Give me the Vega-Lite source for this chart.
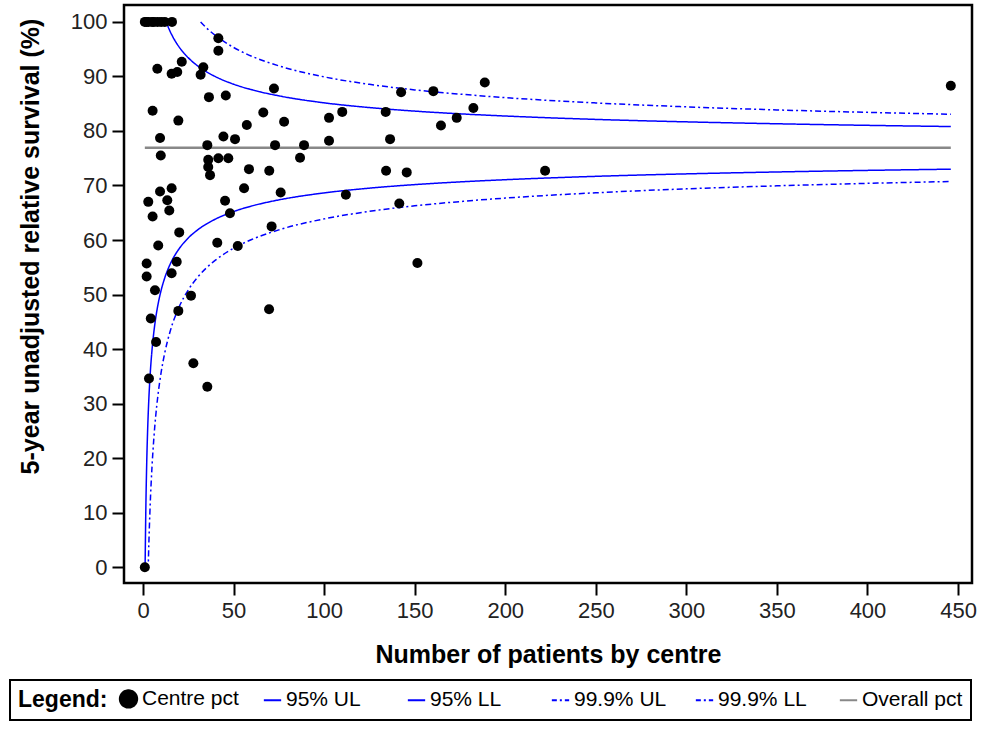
{
  "$schema": "https://vega.github.io/schema/vega-lite/v6.json",
  "autosize": {"type": "none"},
  "width": 848,
  "height": 578,
  "padding": {"left": 124, "top": 5, "right": 16, "bottom": 146},
  "background": "white",
  "config": {
    "font": "Liberation Sans",
    "view": {"stroke": "black", "strokeWidth": 2.5},
    "axis": {
      "grid": false,
      "domain": false,
      "tickColor": "black",
      "tickWidth": 2,
      "tickSize": 12,
      "labelFont": "Liberation Sans",
      "labelFontSize": 22,
      "labelColor": "#222222",
      "labelPadding": 5,
      "titleFont": "Liberation Sans",
      "titleFontSize": 25,
      "titleFontWeight": "bold",
      "titleColor": "black"
    }
  },
  "datasets": {
    "pts": [
      {"n": 1, "v": 100, "series": "Centre pct"}, {"n": 2, "v": 100, "series": "Centre pct"}, {"n": 3, "v": 100, "series": "Centre pct"},
      {"n": 5, "v": 100, "series": "Centre pct"}, {"n": 6, "v": 100, "series": "Centre pct"}, {"n": 8, "v": 100, "series": "Centre pct"},
      {"n": 10, "v": 100, "series": "Centre pct"}, {"n": 12, "v": 100, "series": "Centre pct"}, {"n": 16, "v": 100, "series": "Centre pct"},
      {"n": 41.6, "v": 97.0, "series": "Centre pct"}, {"n": 41.6, "v": 94.7, "series": "Centre pct"}, {"n": 21.4, "v": 92.7, "series": "Centre pct"},
      {"n": 7.9, "v": 91.4, "series": "Centre pct"}, {"n": 15.8, "v": 90.5, "series": "Centre pct"}, {"n": 18.9, "v": 90.8, "series": "Centre pct"},
      {"n": 33.3, "v": 91.7, "series": "Centre pct"}, {"n": 31.8, "v": 90.3, "series": "Centre pct"}, {"n": 36.4, "v": 86.2, "series": "Centre pct"},
      {"n": 45.7, "v": 86.5, "series": "Centre pct"}, {"n": 5.3, "v": 83.7, "series": "Centre pct"}, {"n": 19.5, "v": 81.9, "series": "Centre pct"},
      {"n": 9.4, "v": 78.7, "series": "Centre pct"}, {"n": 44.4, "v": 79.0, "series": "Centre pct"}, {"n": 50.8, "v": 78.5, "series": "Centre pct"},
      {"n": 35.5, "v": 77.4, "series": "Centre pct"}, {"n": 9.8, "v": 75.5, "series": "Centre pct"}, {"n": 36, "v": 74.7, "series": "Centre pct"},
      {"n": 41.6, "v": 75.0, "series": "Centre pct"}, {"n": 47.1, "v": 75.0, "series": "Centre pct"}, {"n": 36, "v": 73.4, "series": "Centre pct"},
      {"n": 37, "v": 71.9, "series": "Centre pct"}, {"n": 15.8, "v": 69.5, "series": "Centre pct"}, {"n": 9.4, "v": 68.9, "series": "Centre pct"},
      {"n": 2.9, "v": 67.0, "series": "Centre pct"}, {"n": 13.4, "v": 67.3, "series": "Centre pct"}, {"n": 14.5, "v": 65.4, "series": "Centre pct"},
      {"n": 5.3, "v": 64.3, "series": "Centre pct"}, {"n": 45.3, "v": 67.2, "series": "Centre pct"}, {"n": 48, "v": 64.9, "series": "Centre pct"},
      {"n": 20, "v": 61.4, "series": "Centre pct"}, {"n": 8.4, "v": 59.0, "series": "Centre pct"}, {"n": 41, "v": 59.5, "series": "Centre pct"},
      {"n": 2, "v": 55.7, "series": "Centre pct"}, {"n": 18.6, "v": 56.0, "series": "Centre pct"}, {"n": 15.8, "v": 53.9, "series": "Centre pct"},
      {"n": 2, "v": 53.3, "series": "Centre pct"}, {"n": 6.6, "v": 50.8, "series": "Centre pct"}, {"n": 26.5, "v": 49.8, "series": "Centre pct"},
      {"n": 52.3, "v": 58.9, "series": "Centre pct"}, {"n": 55.8, "v": 69.5, "series": "Centre pct"}, {"n": 76, "v": 68.7, "series": "Centre pct"},
      {"n": 71, "v": 62.5, "series": "Centre pct"}, {"n": 69.6, "v": 47.3, "series": "Centre pct"}, {"n": 27.8, "v": 37.4, "series": "Centre pct"},
      {"n": 35.5, "v": 33.1, "series": "Centre pct"}, {"n": 19.5, "v": 47.0, "series": "Centre pct"}, {"n": 4.3, "v": 45.6, "series": "Centre pct"},
      {"n": 7.2, "v": 41.3, "series": "Centre pct"}, {"n": 3.3, "v": 34.6, "series": "Centre pct"}, {"n": 1, "v": 0, "series": "Centre pct"},
      {"n": 72.3, "v": 87.8, "series": "Centre pct"}, {"n": 66.4, "v": 83.4, "series": "Centre pct"}, {"n": 77.9, "v": 81.7, "series": "Centre pct"},
      {"n": 102.7, "v": 82.4, "series": "Centre pct"}, {"n": 110, "v": 83.5, "series": "Centre pct"}, {"n": 134, "v": 83.5, "series": "Centre pct"},
      {"n": 142.5, "v": 87.1, "series": "Centre pct"}, {"n": 160.3, "v": 87.3, "series": "Centre pct"}, {"n": 164.5, "v": 81.0, "series": "Centre pct"},
      {"n": 173.2, "v": 82.4, "series": "Centre pct"}, {"n": 72.9, "v": 77.4, "series": "Centre pct"}, {"n": 88.9, "v": 77.4, "series": "Centre pct"},
      {"n": 86.7, "v": 75.1, "series": "Centre pct"}, {"n": 102.7, "v": 78.2, "series": "Centre pct"}, {"n": 136.4, "v": 78.5, "series": "Centre pct"},
      {"n": 69.7, "v": 72.7, "series": "Centre pct"}, {"n": 134.2, "v": 72.7, "series": "Centre pct"}, {"n": 145.6, "v": 72.4, "series": "Centre pct"},
      {"n": 112, "v": 68.3, "series": "Centre pct"}, {"n": 141.5, "v": 66.7, "series": "Centre pct"}, {"n": 151.5, "v": 55.8, "series": "Centre pct"},
      {"n": 57.3, "v": 81.1, "series": "Centre pct"}, {"n": 58.5, "v": 73.0, "series": "Centre pct"}, {"n": 188.7, "v": 88.9, "series": "Centre pct"},
      {"n": 182.4, "v": 84.2, "series": "Centre pct"}, {"n": 222, "v": 72.7, "series": "Centre pct"}, {"n": 446, "v": 88.3, "series": "Centre pct"}
    ],
    "curves": [
      {"series": "95% UL", "n": 1, "v": 100}, {"series": "95% UL", "n": 12.79, "v": 100}, {"series": "95% UL", "n": 14, "v": 98.98},
      {"series": "95% UL", "n": 16, "v": 97.55}, {"series": "95% UL", "n": 18, "v": 96.37}, {"series": "95% UL", "n": 20, "v": 95.37},
      {"series": "95% UL", "n": 25, "v": 93.42}, {"series": "95% UL", "n": 30, "v": 91.98}, {"series": "95% UL", "n": 35, "v": 90.86},
      {"series": "95% UL", "n": 40, "v": 89.96}, {"series": "95% UL", "n": 50, "v": 88.58}, {"series": "95% UL", "n": 60, "v": 87.56},
      {"series": "95% UL", "n": 75, "v": 86.44}, {"series": "95% UL", "n": 100, "v": 85.16}, {"series": "95% UL", "n": 125, "v": 84.29},
      {"series": "95% UL", "n": 150, "v": 83.64}, {"series": "95% UL", "n": 175, "v": 83.14}, {"series": "95% UL", "n": 200, "v": 82.74},
      {"series": "95% UL", "n": 250, "v": 82.12}, {"series": "95% UL", "n": 300, "v": 81.67}, {"series": "95% UL", "n": 350, "v": 81.32},
      {"series": "95% UL", "n": 400, "v": 81.03}, {"series": "95% UL", "n": 446, "v": 80.81},
      {"series": "95% LL", "n": 1, "v": 0}, {"series": "95% LL", "n": 1.15, "v": 0}, {"series": "95% LL", "n": 1.2, "v": 1.49},
      {"series": "95% LL", "n": 1.5, "v": 9.45}, {"series": "95% LL", "n": 2, "v": 18.49}, {"series": "95% LL", "n": 2.5, "v": 24.65},
      {"series": "95% LL", "n": 3, "v": 29.2}, {"series": "95% LL", "n": 4, "v": 35.59}, {"series": "95% LL", "n": 5, "v": 39.96},
      {"series": "95% LL", "n": 6, "v": 43.17}, {"series": "95% LL", "n": 7, "v": 45.68}, {"series": "95% LL", "n": 8, "v": 47.69},
      {"series": "95% LL", "n": 10, "v": 50.78}, {"series": "95% LL", "n": 12, "v": 53.05}, {"series": "95% LL", "n": 14, "v": 54.82},
      {"series": "95% LL", "n": 16, "v": 56.25}, {"series": "95% LL", "n": 20, "v": 58.43}, {"series": "95% LL", "n": 25, "v": 60.38},
      {"series": "95% LL", "n": 30, "v": 61.82}, {"series": "95% LL", "n": 35, "v": 62.94}, {"series": "95% LL", "n": 40, "v": 63.84},
      {"series": "95% LL", "n": 50, "v": 65.22}, {"series": "95% LL", "n": 60, "v": 66.24}, {"series": "95% LL", "n": 75, "v": 67.36},
      {"series": "95% LL", "n": 100, "v": 68.64}, {"series": "95% LL", "n": 125, "v": 69.51}, {"series": "95% LL", "n": 150, "v": 70.16},
      {"series": "95% LL", "n": 175, "v": 70.66}, {"series": "95% LL", "n": 200, "v": 71.06}, {"series": "95% LL", "n": 250, "v": 71.68},
      {"series": "95% LL", "n": 300, "v": 72.13}, {"series": "95% LL", "n": 350, "v": 72.48}, {"series": "95% LL", "n": 400, "v": 72.77},
      {"series": "95% LL", "n": 446, "v": 72.99},
      {"series": "99.9% UL", "n": 31.79, "v": 100}, {"series": "99.9% UL", "n": 35, "v": 98.91}, {"series": "99.9% UL", "n": 40, "v": 97.49},
      {"series": "99.9% UL", "n": 45, "v": 96.32}, {"series": "99.9% UL", "n": 50, "v": 95.32}, {"series": "99.9% UL", "n": 60, "v": 93.71},
      {"series": "99.9% UL", "n": 75, "v": 91.94}, {"series": "99.9% UL", "n": 100, "v": 89.92}, {"series": "99.9% UL", "n": 125, "v": 88.55},
      {"series": "99.9% UL", "n": 150, "v": 87.53}, {"series": "99.9% UL", "n": 175, "v": 86.75}, {"series": "99.9% UL", "n": 200, "v": 86.11},
      {"series": "99.9% UL", "n": 250, "v": 85.14}, {"series": "99.9% UL", "n": 300, "v": 84.42}, {"series": "99.9% UL", "n": 350, "v": 83.86},
      {"series": "99.9% UL", "n": 400, "v": 83.41}, {"series": "99.9% UL", "n": 446, "v": 83.07},
      {"series": "99.9% LL", "n": 1, "v": 0}, {"series": "99.9% LL", "n": 2.87, "v": 0}, {"series": "99.9% LL", "n": 3, "v": 1.7},
      {"series": "99.9% LL", "n": 3.5, "v": 7.28}, {"series": "99.9% LL", "n": 4, "v": 11.78}, {"series": "99.9% LL", "n": 5, "v": 18.65},
      {"series": "99.9% LL", "n": 6, "v": 23.72}, {"series": "99.9% LL", "n": 7, "v": 27.68}, {"series": "99.9% LL", "n": 8, "v": 30.85},
      {"series": "99.9% LL", "n": 10, "v": 35.71}, {"series": "99.9% LL", "n": 12, "v": 39.3}, {"series": "99.9% LL", "n": 15, "v": 43.27},
      {"series": "99.9% LL", "n": 20, "v": 47.78}, {"series": "99.9% LL", "n": 25, "v": 50.85}, {"series": "99.9% LL", "n": 30, "v": 53.12},
      {"series": "99.9% LL", "n": 35, "v": 54.89}, {"series": "99.9% LL", "n": 40, "v": 56.31}, {"series": "99.9% LL", "n": 50, "v": 58.48},
      {"series": "99.9% LL", "n": 60, "v": 60.09}, {"series": "99.9% LL", "n": 75, "v": 61.86}, {"series": "99.9% LL", "n": 100, "v": 63.88},
      {"series": "99.9% LL", "n": 125, "v": 65.25}, {"series": "99.9% LL", "n": 150, "v": 66.27}, {"series": "99.9% LL", "n": 175, "v": 67.05},
      {"series": "99.9% LL", "n": 200, "v": 67.69}, {"series": "99.9% LL", "n": 250, "v": 68.66}, {"series": "99.9% LL", "n": 300, "v": 69.38},
      {"series": "99.9% LL", "n": 350, "v": 69.94}, {"series": "99.9% LL", "n": 400, "v": 70.39}, {"series": "99.9% LL", "n": 446, "v": 70.73}
    ],
    "overall": [
      {"series": "Overall pct", "n": 1, "v": 76.9}, {"series": "Overall pct", "n": 446, "v": 76.9}
    ]
  },
  "encoding": {
    "x": {
      "field": "n", "type": "quantitative",
      "scale": {"domain": [-10.5, 457.7], "nice": false, "zero": false},
      "axis": {"values": [0, 50, 100, 150, 200, 250, 300, 350, 400, 450], "title": "Number of patients by centre", "titleY": 71, "titleBaseline": "middle"}
    },
    "y": {
      "field": "v", "type": "quantitative",
      "scale": {"domain": [-2.9, 103.1], "nice": false, "zero": false},
      "axis": {"values": [0, 10, 20, 30, 40, 50, 60, 70, 80, 90, 100], "title": "5-year unadjusted relative survival (%)", "titleX": -94, "titleY": 241, "titleAngle": 270, "titleBaseline": "middle", "titleAlign": "center"}
    },
    "color": {
      "field": "series", "type": "nominal",
      "scale": {
        "domain": ["Centre pct", "95% UL", "95% LL", "99.9% UL", "99.9% LL", "Overall pct"],
        "range": ["black", "#0000ff", "#0000ff", "#0000ff", "#0000ff", "#888888"]
      },
      "legend": {
        "title": "Legend:",
        "orient": "none",
        "legendX": -114,
        "legendY": 675,
        "direction": "horizontal",
        "columns": 6,
        "gridAlign": "all",
        "titleOrient": "left",
        "titleFontWeight": "bold",
        "titleFontSize": 23,
        "titleColor": "black",
        "titlePadding": 10,
        "labelFontSize": 21,
        "labelColor": "black",
        "labelLimit": 200,
        "labelOffset": 3,
        "columnPadding": 16,
        "padding": 8,
        "strokeColor": "black",
        "symbolSize": 300,
        "encode": {
          "legend": {"update": {"strokeWidth": {"value": 2}}},
          "symbols": {
            "update": {
              "shape": {"signal": "datum.value === 'Centre pct' ? 'circle' : 'stroke'"},
              "size": {"signal": "datum.value === 'Centre pct' ? 300 : 300"},
              "fill": {"signal": "datum.value === 'Centre pct' ? 'black' : 'transparent'"},
              "stroke": {"signal": "datum.value === 'Centre pct' ? 'black' : (datum.value === 'Overall pct' ? '#555555' : '#0000ff')"},
              "strokeWidth": {"value": 2},
              "strokeDash": {"signal": "indexof(datum.value, '99.9') >= 0 ? [5, 3, 2, 3] : [1, 0]"},
              "opacity": {"value": 1}
            }
          }
        }
      }
    }
  },
  "layer": [
    {
      "data": {"name": "curves"},
      "mark": {"type": "line", "strokeWidth": 1.5, "interpolate": "monotone"},
      "encoding": {
        "strokeDash": {
          "field": "series", "type": "nominal",
          "scale": {"domain": ["95% UL", "95% LL", "99.9% UL", "99.9% LL"], "range": [[1, 0], [1, 0], [6, 3, 2, 3], [6, 3, 2, 3]]},
          "legend": null
        }
      }
    },
    {
      "data": {"name": "overall"},
      "mark": {"type": "line", "strokeWidth": 2.5},
      "encoding": {}
    },
    {
      "data": {"name": "pts"},
      "mark": {"type": "point", "filled": true, "shape": "circle", "size": 100, "opacity": 1, "strokeWidth": 0}
    }
  ]
}
